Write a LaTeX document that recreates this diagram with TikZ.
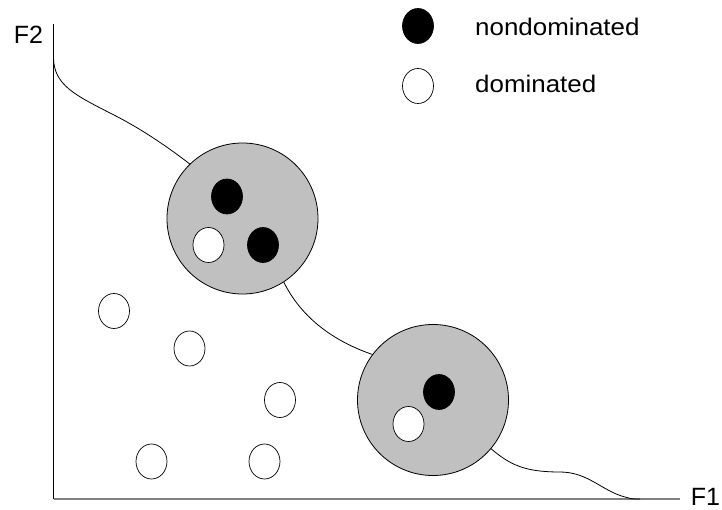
\documentclass[tikz,border=0pt]{standalone}
\usepackage{fontspec}
\setmainfont{Liberation Sans}
\usetikzlibrary{shapes.geometric}
\definecolor{silverfill}{HTML}{C0C0C0}
\definecolor{axisgray}{HTML}{808080}
\begin{document}
\begin{tikzpicture}[x=1pt,y=-1pt,
  bigcirc/.style={circle,draw=black,line width=0.8pt,fill=silverfill,minimum size=151pt,inner sep=0pt,outer sep=0pt},
  dotblack/.style={ellipse,draw=black,line width=0.7pt,fill=black,minimum width=31pt,minimum height=35pt,inner sep=0pt},
  dotwhite/.style={ellipse,draw=black,line width=0.7pt,fill=white,minimum width=31pt,minimum height=35pt,inner sep=0pt},
  front/.style={line width=0.8pt},
  lbl/.style={font=\fontsize{25}{28}\selectfont,inner sep=0pt},
  legtxt/.style={font=\fontsize{24}{28}\selectfont,inner sep=0pt,anchor=west}]
\useasboundingbox (0,0) rectangle (722,510);
% axes
\coordinate (origin) at (53.5,499);
\coordinate (ytop) at (53.5,24);
\coordinate (xend) at (680,499);
\coordinate (fstart) at (53.5,58);
\coordinate (fend) at (640,499);
\draw[line width=0.9pt,black] (origin) -- (ytop);
\draw[line width=1.2pt,axisgray] (origin) -- (xend);
\node[lbl] (f2) at (28.5,34.5) {F2};
\node[lbl] (f1) at (705.5,497) {F1};
% clusters
\node[bigcirc] (c1) at (242.5,218.5) {};
\node[bigcirc] (c2) at (433,400) {};
% front curve
\draw[front] (fstart) .. controls (54,85) and (75,95) .. (110,113)
  .. controls (140,128) and (165,145) .. (c1.134);
\draw[front] (c1.-57) .. controls (300,315) and (330,340) .. (c2.143);
\draw[front] (c2.-40) .. controls (510,465) and (525,472) .. (560,472)
  .. controls (588,472) and (602,491) .. (625,497)
  .. controls (632,499) .. (fend);
% points in clusters
\node[dotblack] (b1) at (227,196.5) {};
\node[dotblack] (b2) at (263,245) {};
\node[dotwhite] (w1) at (208.5,245) {};
\node[dotblack] (b3) at (439,392) {};
\node[dotwhite] (w2) at (408.5,424) {};
% dominated points
\node[dotwhite] (d1) at (114,311) {};
\node[dotwhite] (d2) at (189.5,348.5) {};
\node[dotwhite] (d3) at (280,400) {};
\node[dotwhite] (d4) at (151.5,461.5) {};
\node[dotwhite] (d5) at (264.5,461.5) {};
% legend
\node[dotblack] (lb) at (418,26) {};
\node[dotwhite] (lw) at (418,86) {};
\node[legtxt] (ln) at (475,27) {\scalebox{1.08}[1]{nondominated}};
\node[legtxt] (ld) at (475,84) {\scalebox{1.08}[1]{dominated}};
\end{tikzpicture}
\end{document}
